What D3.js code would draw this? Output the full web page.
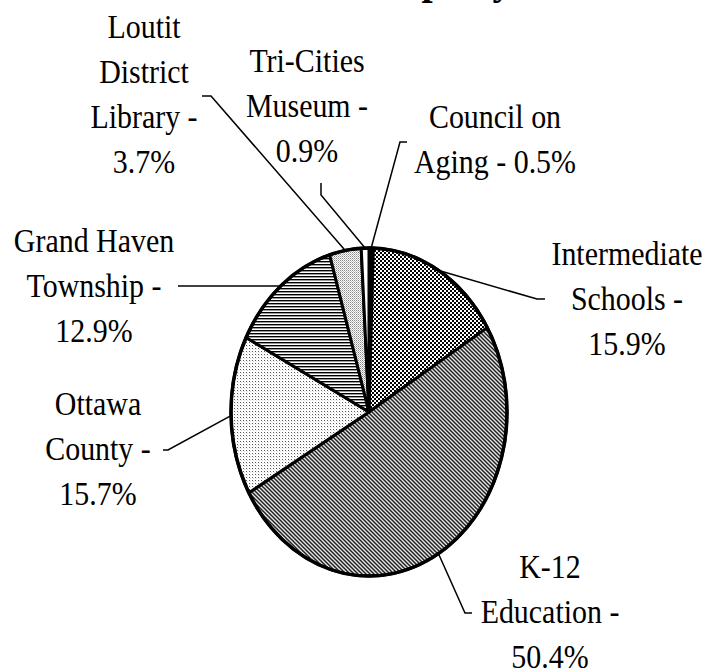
<!DOCTYPE html>
<html>
<head>
<meta charset="utf-8">
<script src="https://cdn.jsdelivr.net/npm/d3@7"></script>
<style>
  html, body { margin: 0; padding: 0; background: #fff; }
  svg { display: block; }
</style>
</head>
<body>
<div id="chart"></div>
<script>
// slices, clockwise from 12 o'clock
const categories = ["Council on Aging", "Intermediate Schools", "K-12 Education", "Ottawa County",
  "Grand Haven Township", "Loutit District Library", "Tri-Cities Museum"];
const shares = [0.5, 15.9, 50.4, 15.7, 12.9, 3.7, 0.9];
const labelLines = [
  ["Council on", "Aging -"],
  ["Intermediate", "Schools -"],
  ["K-12", "Education -"],
  ["Ottawa", "County -"],
  ["Grand Haven", "Township -"],
  ["Loutit", "District", "Library -"],
  ["Tri-Cities", "Museum -"]
];
const percentOnLastLine = [true, false, false, false, false, false, false];
const titleText = "Where Your Property Tax Goes";

const width = 709, height = 669;
const cx = 369, cy = 412, rx = 138, ry = 164;
const lineHeight = 45;
const serif = "Liberation Serif";

// label placement: centre x, first baseline, leader start/elbow
const layout = [
  { x: 495, y: 128, leader: [[407, 142], [400, 142]] },
  { x: 627, y: 265, leader: [[545, 299], [537, 299]] },
  { x: 550, y: 578, leader: [[472, 613], [465, 613]] },
  { x: 98, y: 415, leader: [[163, 450], [168, 450]] },
  { x: 94, y: 252, leader: [[178, 286]] },
  { x: 144, y: 38, leader: [[202, 96], [211, 96]] },
  { x: 307, y: 72, leader: [[321, 183], [321, 195]] }
];

const fills = ["#000", "url(#checker)", "url(#diag)", "url(#sparse)", "url(#hlines)", "url(#fine)", "#fff"];

const svg = d3.select("#chart").append("svg")
  .attr("width", width)
  .attr("height", height)
  .attr("viewBox", [0, 0, width, height]);

const defs = svg.append("defs");

const checker = defs.append("pattern").attr("id", "checker")
  .attr("patternUnits", "userSpaceOnUse").attr("width", 4).attr("height", 4);
checker.append("rect").attr("width", 4).attr("height", 4).attr("fill", "#fff");
checker.append("rect").attr("width", 2).attr("height", 2).attr("fill", "#000");
checker.append("rect").attr("x", 2).attr("y", 2).attr("width", 2).attr("height", 2).attr("fill", "#000");

const diag = defs.append("pattern").attr("id", "diag")
  .attr("patternUnits", "userSpaceOnUse").attr("width", 4).attr("height", 4);
diag.append("rect").attr("width", 4).attr("height", 4).attr("fill", "#e8e8e8");
diag.append("path").attr("d", "M-1,-1L5,5M-1,3L1,5M3,-1L5,1")
  .attr("stroke", "#222").attr("stroke-width", 1.5);

const sparse = defs.append("pattern").attr("id", "sparse")
  .attr("patternUnits", "userSpaceOnUse").attr("width", 3).attr("height", 3);
sparse.append("rect").attr("width", 3).attr("height", 3).attr("fill", "#fff");
sparse.append("rect").attr("width", 1).attr("height", 1).attr("fill", "#555");
sparse.append("rect").attr("x", 1).attr("y", 1).attr("width", 1).attr("height", 1).attr("fill", "#ddd");

const hlines = defs.append("pattern").attr("id", "hlines")
  .attr("patternUnits", "userSpaceOnUse").attr("width", 4).attr("height", 3);
hlines.append("rect").attr("width", 4).attr("height", 3).attr("fill", "#fff");
hlines.append("rect").attr("width", 4).attr("height", 1.4).attr("fill", "#000");

const fine = defs.append("pattern").attr("id", "fine")
  .attr("patternUnits", "userSpaceOnUse").attr("width", 2).attr("height", 2);
fine.append("rect").attr("width", 2).attr("height", 2).attr("fill", "#fff");
fine.append("rect").attr("width", 1).attr("height", 1).attr("fill", "#888");
fine.append("rect").attr("x", 1).attr("y", 1).attr("width", 1).attr("height", 1).attr("fill", "#bbb");

// title, mostly above the visible area
svg.append("text")
  .attr("x", 143)
  .attr("y", -6)
  .attr("font-family", serif)
  .attr("font-size", 40)
  .attr("font-weight", "bold")
  .text(titleText);

const pie = d3.pie().sort(null).value(d => d)(shares);

const onEllipse = a => [cx + rx * Math.sin(a), cy - ry * Math.cos(a)];

const slicePath = d => {
  const [x0, y0] = onEllipse(d.startAngle);
  const [x1, y1] = onEllipse(d.endAngle);
  const large = d.endAngle - d.startAngle > Math.PI ? 1 : 0;
  return `M${cx},${cy}L${x0},${y0}A${rx},${ry} 0 ${large} 1 ${x1},${y1}Z`;
};

svg.append("g")
  .selectAll("path")
  .data(pie)
  .join("path")
  .attr("d", slicePath)
  .attr("fill", (d, i) => fills[i])
  .attr("stroke", "#000")
  .attr("stroke-width", 3)
  .attr("stroke-linejoin", "round");

svg.append("ellipse")
  .attr("cx", cx).attr("cy", cy).attr("rx", rx).attr("ry", ry)
  .attr("fill", "none")
  .attr("stroke", "#000")
  .attr("stroke-width", 3.5);

// leader lines
const line = d3.line();
svg.append("g")
  .selectAll("path")
  .data(pie)
  .join("path")
  .attr("d", (d, i) => line([...layout[i].leader, onEllipse((d.startAngle + d.endAngle) / 2)]))
  .attr("fill", "none")
  .attr("stroke", "#000")
  .attr("stroke-width", 1.5);

// labels
const labels = svg.append("g")
  .selectAll("text")
  .data(pie)
  .join("text")
  .attr("transform", (d, i) => `translate(${layout[i].x},${layout[i].y}) scale(0.88,1)`)
  .attr("text-anchor", "middle")
  .attr("font-family", serif)
  .attr("font-size", 34)
  .attr("fill", "#000");

labels.each(function (d, i) {
  const pct = shares[i].toFixed(1) + "%";
  const lines = labelLines[i].slice();
  if (percentOnLastLine[i]) lines[lines.length - 1] += " " + pct;
  else lines.push(pct);
  d3.select(this).selectAll("tspan")
    .data(lines)
    .join("tspan")
    .attr("x", 0)
    .attr("dy", (t, j) => j === 0 ? 0 : lineHeight)
    .text(t => t);
});
</script>
</body>
</html>
